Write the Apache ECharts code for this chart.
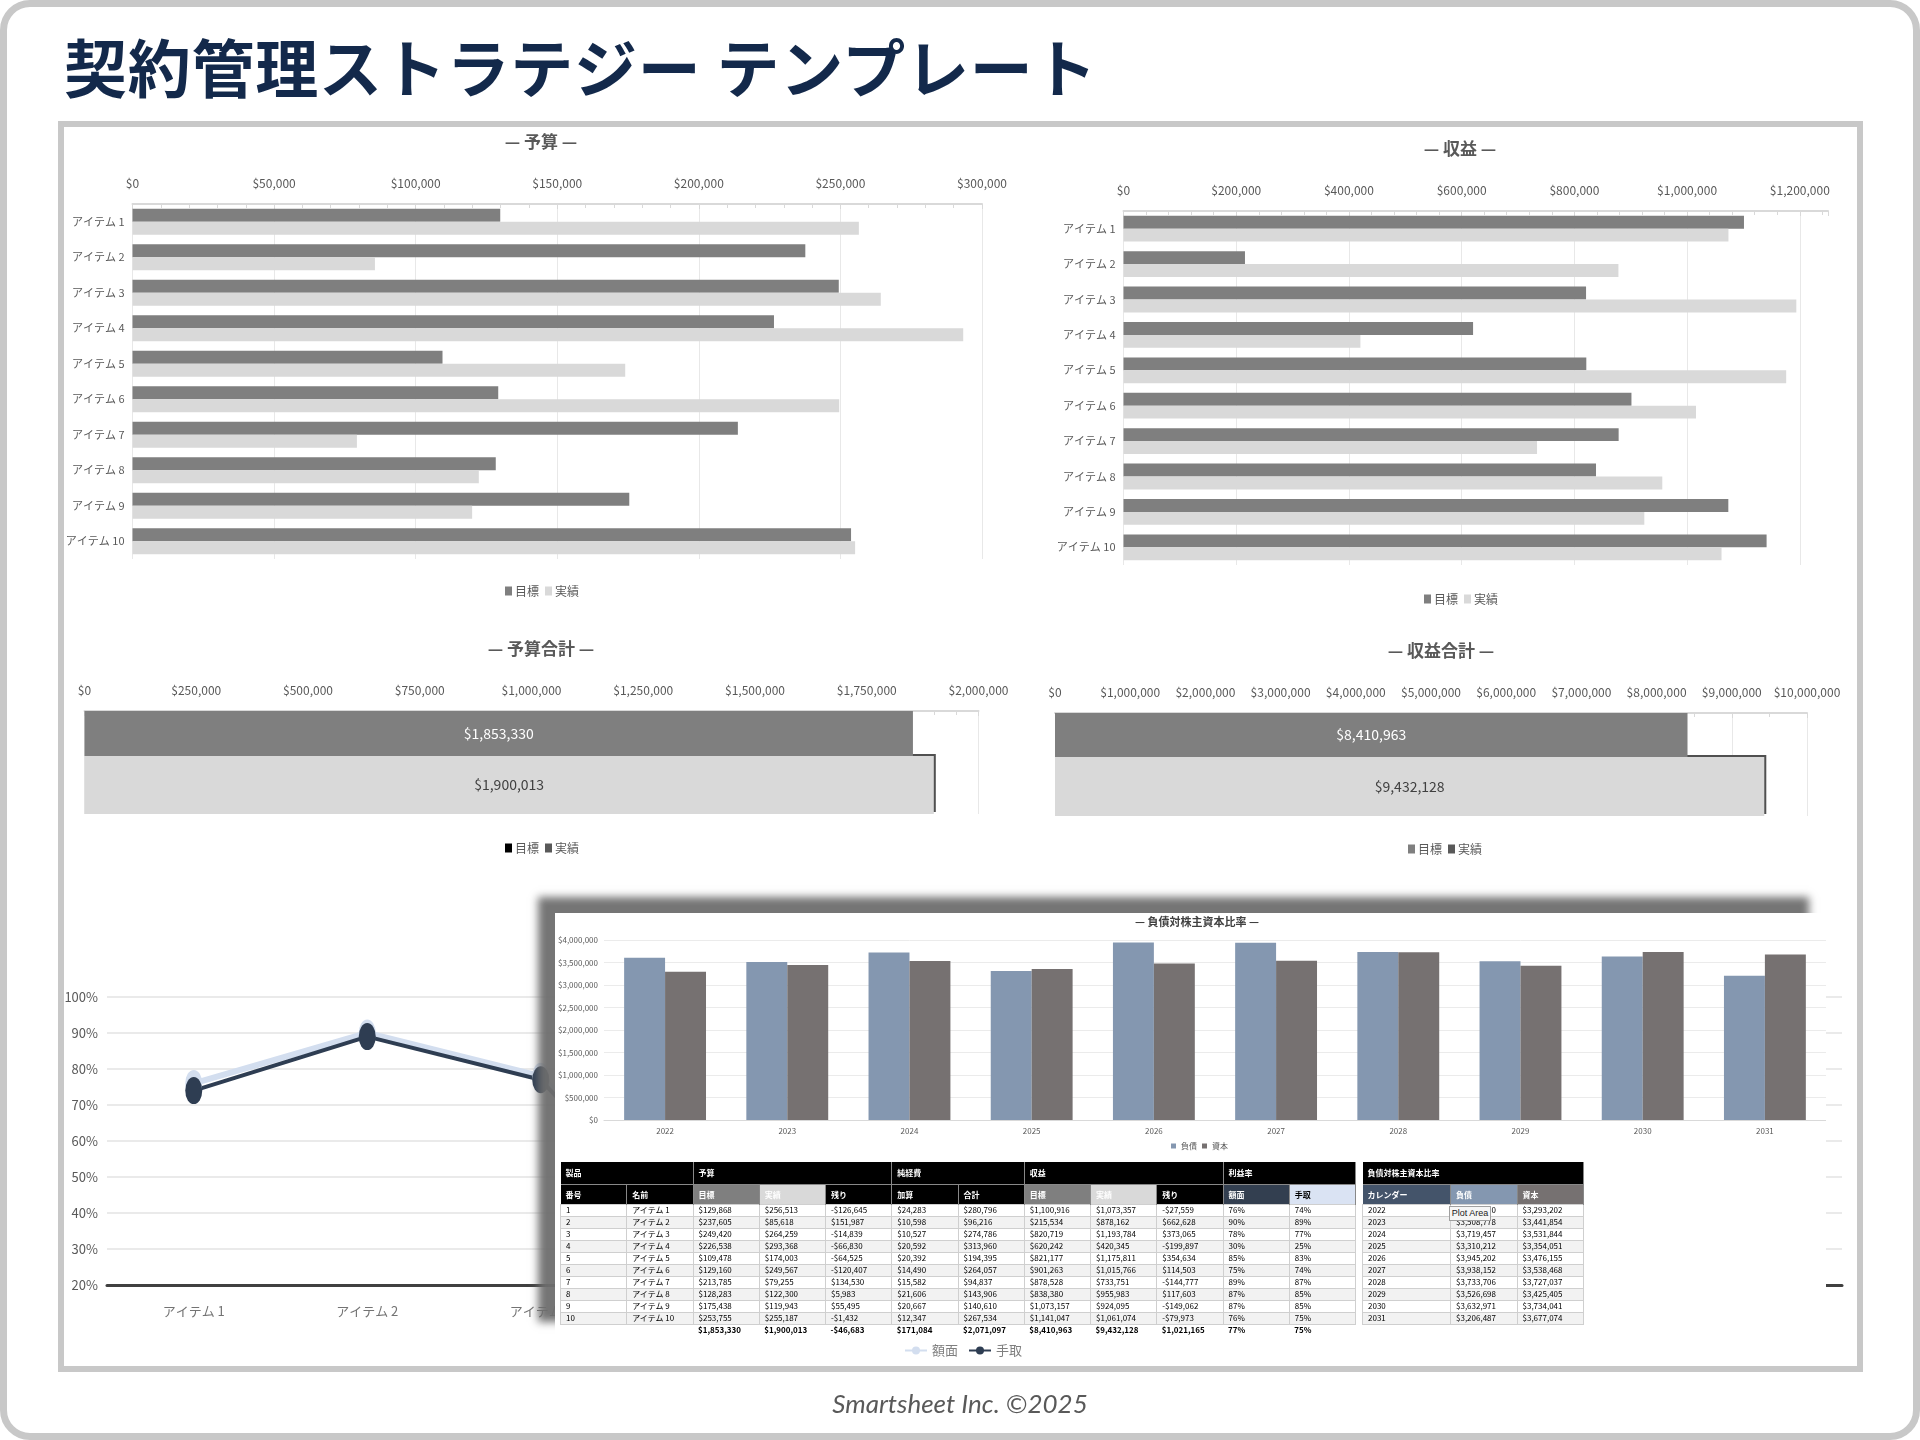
<!DOCTYPE html>
<html><head><meta charset="utf-8">
<script src="https://cdn.jsdelivr.net/npm/echarts@6/dist/echarts.min.js"></script>
<style>
html,body{margin:0;padding:0;background:#fff;}
body{width:1920px;height:1440px;position:relative;overflow:hidden;font-family:"Noto Sans CJK JP",sans-serif;}
#main{position:absolute;left:0;top:0;width:1920px;height:1440px;}
#outer{position:absolute;left:0;top:0;width:1920px;height:1440px;box-sizing:border-box;border:7px solid #c8c8c8;border-radius:30px;pointer-events:none;}
#inner{position:absolute;left:58px;top:121px;width:1805px;height:1251px;box-sizing:border-box;border:6px solid #c8c8c8;pointer-events:none;}
#title{position:absolute;left:64px;top:33px;font-size:63px;font-weight:700;color:#13294b;line-height:1;white-space:nowrap;letter-spacing:0.75px;font-family:"Noto Sans CJK JP",sans-serif;}
#footer{position:absolute;left:0;width:1920px;top:1387px;text-align:center;font-family:Lato,sans-serif;font-style:italic;font-size:26px;color:#595959;line-height:32px;}
#panel{position:absolute;left:555px;top:913px;width:1271px;height:425px;background:#fff;box-shadow:-17px -16px 8px rgba(110,110,110,0.95);}
#debt{position:absolute;left:0;top:0;width:1271px;height:245px;}
table{position:absolute;border-collapse:collapse;table-layout:fixed;font-family:"Liberation Sans Narrow","Noto Sans CJK JP",sans-serif;font-size:8px;color:#000;}
td{padding:0 0 0 5px;overflow:hidden;white-space:nowrap;box-sizing:border-box;}
tr.h1 td{height:22px;background:#000;color:#fff;font-weight:bold;border-right:1px solid #888;}
tr.h2 td{height:20px;background:#000;color:#fff;font-weight:bold;border-right:1px solid #888;border-top:1px solid #888;}
tr.d td{height:12px;border:1px solid #cfcfcf;line-height:10px;}
tr.d:nth-child(even) td{background:#f2f2f2;}
tr.t td{height:10px;font-weight:bold;line-height:10px;}
#tip{position:absolute;left:894px;top:293px;width:42px;height:15px;box-sizing:border-box;border:1px solid #a0a0a0;background:#f6f6f6;font-family:"Liberation Sans","DejaVu Sans",sans-serif;font-size:9px;line-height:13px;text-align:center;color:#222;}
</style>
</head>
<body>
<div id="main"></div>
<div id="title">契約管理ストラテジー テンプレート</div>
<div id="outer"></div>
<div id="inner"></div>
<div id="panel">
  <div id="debt"></div>
  <table id="t1"></table>
  <table id="t2"></table>
  <div id="tip">Plot Area</div>
</div>
<div id="footer">Smartsheet Inc. ©2025</div>
<script>
// ---- data ----
const items = ['アイテム 1','アイテム 2','アイテム 3','アイテム 4','アイテム 5','アイテム 6','アイテム 7','アイテム 8','アイテム 9','アイテム 10'];
const budgetTarget = [129868, 237605, 249420, 226538, 109478, 129160, 213785, 128283, 175438, 253755];
const budgetActual = [256513, 85618, 264259, 293368, 174003, 249567, 79255, 122300, 119943, 255187];
const addedCost = [24283, 10598, 10527, 20592, 20392, 14490, 15582, 21606, 20667, 12347];
const revenueTarget = [1100916, 215534, 820719, 620242, 821177, 901263, 878528, 838380, 1073157, 1141047];
const revenueActual = [1073357, 878162, 1193784, 420345, 1175811, 1015766, 733751, 955983, 924095, 1061074];
const faceRate = [76, 90, 78, 30, 85, 75, 89, 87, 87, 76];
const netRate = [74, 89, 77, 25, 83, 74, 87, 85, 85, 75];
const rateTotals = ['77%', '75%'];
const budgetTotals = [1853330, 1900013];
const revenueTotals = [8410963, 9432128];
const years = ['2022','2023','2024','2025','2026','2027','2028','2029','2030','2031'];
const debt = [3605000, 3508778, 3719457, 3310212, 3945202, 3938152, 3733706, 3526698, 3632971, 3206487];
const equity = [3293202, 3441854, 3531844, 3354051, 3476155, 3538468, 3727037, 3425405, 3734041, 3677074];

const FN = '"Liberation Sans Narrow","Noto Sans CJK JP",sans-serif';
const FJ = '"Noto Sans CJK JP",sans-serif';
const money = v => (v < 0 ? '-' : '') + '$' + Math.abs(v).toLocaleString('en-US');
const C_T = '#7f7f7f', C_A = '#d9d9d9';

function topAxis(grid, max, interval, minorSplit, extra) {
  return Object.assign({
    type: 'value', gridIndex: grid, position: 'top', min: 0, max: max, interval: interval,
    axisLine: {show: true, lineStyle: {color: '#d9d9d9', width: 2}},
    axisTick: {show: true, inside: true, length: 5, lineStyle: {color: '#d9d9d9'}},
    minorTick: {show: true, splitNumber: minorSplit, length: 4, lineStyle: {color: '#d9d9d9'}},
    splitLine: {show: true, lineStyle: {color: '#e8e8e8'}},
    axisLabel: {formatter: money, color: '#595959', fontSize: 12, fontFamily: FN, margin: 15}
  }, extra || {});
}
function catAxis(grid, data, show) {
  return {
    type: 'category', gridIndex: grid, inverse: true, data: data,
    axisLine: {show: false}, axisTick: {show: false},
    axisLabel: {show: show, color: '#595959', fontSize: 11, fontFamily: FJ, margin: 8}
  };
}
function ttl(text, x, y) {
  return {text: text, left: x, top: y - 10, textAlign: 'center', padding: 0,
    textStyle: {fontSize: 17, fontWeight: 'bold', color: '#595959', fontFamily: FJ}};
}
function lg(names, colors, cx, cy) {
  return {
    data: names.map((n, i) => ({name: n, itemStyle: {color: colors[i]}})),
    left: cx - 39, top: cy - 7, padding: 0, icon: 'rect', itemWidth: 7, itemHeight: 9, itemGap: 6,
    selectedMode: false, textStyle: {fontSize: 12, color: '#595959', fontFamily: FJ, padding: [0, 0, 0, -2]}
  };
}

const main = echarts.init(document.getElementById('main'), null, {renderer: 'canvas'});
main.setOption({
  backgroundColor: '#fff',
  animation: false,
  title: [ttl('— 予算 —', 541, 143), ttl('— 収益 —', 1460, 150), ttl('— 予算合計 —', 541, 650), ttl('— 収益合計 —', 1441, 652)],
  legend: [
    lg(['目標', '実績'], [C_T, C_A], 544, 592),
    lg(['目標', '実績'], [C_T, C_A], 1463, 600),
    lg(['目標', '実績'], ['#000', '#595959'], 544, 849),
    lg(['目標', '実績'], [C_T, '#595959'], 1447, 850),
    {data: ['額面', '手取'], left: 960 - 56, top: 1344, padding: 0, itemWidth: 22, itemHeight: 10, itemGap: 10,
     selectedMode: false, textStyle: {fontSize: 13, color: '#7f7f7f', fontFamily: FJ}}
  ],
  grid: [
    {left: 132.5, top: 204, width: 849.5, height: 355},
    {left: 1123.5, top: 211, width: 704.5, height: 354},
    {left: 84.5, top: 711, width: 894, height: 103},
    {left: 1055, top: 713, width: 752, height: 103},
    {left: 107, top: 997, width: 1735, height: 288}
  ],
  xAxis: [
    topAxis(0, 300000, 50000, 5),
    topAxis(1, 1250000, 200000, 5, {}),
    topAxis(2, 2000000, 250000, 5),
    topAxis(3, 10000000, 1000000, 2),
    {type: 'category', gridIndex: 4, data: items, boundaryGap: true,
     axisLine: {show: true, lineStyle: {color: '#404040', width: 3}}, axisTick: {show: false},
     axisLabel: {color: '#737373', fontSize: 13, fontFamily: FJ, margin: 20}}
  ],
  yAxis: [
    catAxis(0, items, true),
    catAxis(1, items, true),
    catAxis(2, ['予算合計'], false),
    catAxis(3, ['収益合計'], false),
    {type: 'value', gridIndex: 4, min: 20, max: 100, interval: 10,
     axisLine: {show: false}, axisTick: {show: false},
     splitLine: {lineStyle: {color: '#e3e3e3', width: 1.5}},
     axisLabel: {formatter: v => v + '%', color: '#595959', fontSize: 13, fontFamily: FN, margin: 9}}
  ],
  series: [
    {name: '目標', type: 'bar', xAxisIndex: 0, yAxisIndex: 0, data: budgetTarget, itemStyle: {color: C_T}, barGap: '0%', barCategoryGap: '27%'},
    {name: '実績', type: 'bar', xAxisIndex: 0, yAxisIndex: 0, data: budgetActual, itemStyle: {color: C_A}, barGap: '0%', barCategoryGap: '27%'},
    {name: '目標', type: 'bar', xAxisIndex: 1, yAxisIndex: 1, data: revenueTarget, itemStyle: {color: C_T}, barGap: '0%', barCategoryGap: '27%'},
    {name: '実績', type: 'bar', xAxisIndex: 1, yAxisIndex: 1, data: revenueActual, itemStyle: {color: C_A}, barGap: '0%', barCategoryGap: '27%'},
    {name: '目標', type: 'bar', xAxisIndex: 2, yAxisIndex: 2, data: [budgetTotals[0]], barWidth: 45, z: 3, barGap: '0%',
     itemStyle: {color: C_T},
     label: {show: true, position: 'inside', formatter: p => money(p.value), color: '#fff', fontSize: 14, fontFamily: FN}},
    {name: '実績', type: 'bar', xAxisIndex: 2, yAxisIndex: 2, data: [budgetTotals[1]], barWidth: 58, z: 2, barGap: '0%',
     itemStyle: {color: C_A, shadowColor: '#505050', shadowOffsetX: 2, shadowOffsetY: -2, shadowBlur: 0},
     label: {show: true, position: 'inside', formatter: p => money(p.value), color: '#404040', fontSize: 14, fontFamily: FN}},
    {name: '目標', type: 'bar', xAxisIndex: 3, yAxisIndex: 3, data: [revenueTotals[0]], barWidth: 44, z: 3, barGap: '0%',
     itemStyle: {color: C_T},
     label: {show: true, position: 'inside', formatter: p => money(p.value), color: '#fff', fontSize: 14, fontFamily: FN}},
    {name: '実績', type: 'bar', xAxisIndex: 3, yAxisIndex: 3, data: [revenueTotals[1]], barWidth: 59, z: 2, barGap: '0%',
     itemStyle: {color: C_A, shadowColor: '#505050', shadowOffsetX: 2, shadowOffsetY: -2, shadowBlur: 0},
     label: {show: true, position: 'inside', formatter: p => money(p.value), color: '#404040', fontSize: 14, fontFamily: FN}},
    {name: '額面', type: 'line', xAxisIndex: 4, yAxisIndex: 4, data: faceRate, symbol: 'circle', symbolSize: [17, 27],
     itemStyle: {color: '#d3deef'}, lineStyle: {color: '#d3deef', width: 6}},
    {name: '手取', type: 'line', xAxisIndex: 4, yAxisIndex: 4, data: netRate, symbol: 'circle', symbolSize: [17, 27],
     itemStyle: {color: '#2e3d52'}, lineStyle: {color: '#2e3d52', width: 4}}
  ]
});
// hide max label/line of revenue axis (max is beyond last labelled tick)
main.setOption({xAxis: [{}, {axisLabel: {showMaxLabel: false}, splitLine: {showMaxLine: false}}]});

const dc = echarts.init(document.getElementById('debt'), null, {renderer: 'canvas'});
dc.setOption({
  animation: false,
  title: {text: '— 負債対株主資本比率 —', left: 642, top: 3, textAlign: 'center', padding: 0,
    textStyle: {fontSize: 11, fontWeight: 'bold', color: '#404040', fontFamily: FJ}},
  legend: {data: ['負債', '資本'], left: 616, top: 229, padding: 0, icon: 'rect', itemWidth: 5, itemHeight: 5, itemGap: 5,
    selectedMode: false, textStyle: {fontSize: 8, color: '#595959', fontFamily: FJ}},
  grid: {left: 48, right: 0, top: 27, height: 180},
  xAxis: {type: 'category', data: years, axisLine: {lineStyle: {color: '#d9d9d9'}}, axisTick: {show: false},
    axisLabel: {fontSize: 8, color: '#595959', fontFamily: FN, margin: 7}},
  yAxis: {type: 'value', min: 0, max: 4000000, interval: 500000, axisLine: {show: false}, axisTick: {show: false},
    splitLine: {lineStyle: {color: '#ebebeb'}},
    axisLabel: {formatter: money, fontSize: 8, color: '#595959', fontFamily: FN, margin: 6}},
  series: [
    {name: '負債', type: 'bar', data: debt, itemStyle: {color: '#8497b0'}, barGap: '0%', barCategoryGap: '33%'},
    {name: '資本', type: 'bar', data: equity, itemStyle: {color: '#767171'}, barGap: '0%', barCategoryGap: '33%'}
  ]
});

// ---- tables ----
const pct = v => v + '%';
function td(text, style) { return '<td' + (style ? ' style="' + style + '"' : '') + '>' + text + '</td>'; }
let h = '<colgroup>' + '<col style="width:66.25px">'.repeat(12) + '</colgroup>';
h += '<tr class="h1"><td colspan="2">製品</td><td colspan="3">予算</td><td colspan="2">純経費</td><td colspan="3">収益</td><td colspan="2">利益率</td></tr>';
const h2 = [['番号'], ['名前'], ['目標', 'background:#7f7f7f'], ['実績', 'background:#d9d9d9'], ['残り'], ['加算'], ['合計'],
  ['目標', 'background:#7f7f7f'], ['実績', 'background:#d9d9d9'], ['残り'], ['額面', 'background:#333f50'], ['手取', 'background:#dae3f3;color:#000']];
h += '<tr class="h2">' + h2.map(c => td(c[0], c[1])).join('') + '</tr>';
for (let i = 0; i < items.length; i++) {
  const row = [i + 1, items[i], money(budgetTarget[i]), money(budgetActual[i]), money(budgetTarget[i] - budgetActual[i]),
    money(addedCost[i]), money(budgetActual[i] + addedCost[i]), money(revenueTarget[i]), money(revenueActual[i]),
    money(revenueActual[i] - revenueTarget[i]), pct(faceRate[i]), pct(netRate[i])];
  h += '<tr class="d">' + row.map(c => td(c)).join('') + '</tr>';
}
const sumAdded = addedCost.reduce((a, b) => a + b, 0);
const tot = ['', '', money(budgetTotals[0]), money(budgetTotals[1]), money(budgetTotals[0] - budgetTotals[1]), money(sumAdded),
  money(budgetTotals[1] + sumAdded), money(revenueTotals[0]), money(revenueTotals[1]), money(revenueTotals[1] - revenueTotals[0]),
  rateTotals[0], rateTotals[1]];
h += '<tr class="t">' + tot.map(c => td(c)).join('') + '</tr>';
const t1 = document.getElementById('t1');
t1.innerHTML = h; t1.style.left = '5px'; t1.style.top = '249px'; t1.style.width = '795px';

let g = '<colgroup><col style="width:88px"><col style="width:66.5px"><col style="width:66px"></colgroup>';
g += '<tr class="h1"><td colspan="3">負債対株主資本比率</td></tr>';
g += '<tr class="h2">' + td('カレンダー', 'background:#44546a') + td('負債', 'background:#8497b0') + td('資本', 'background:#767171') + '</tr>';
for (let i = 0; i < years.length; i++) {
  g += '<tr class="d">' + td(years[i]) + td(money(debt[i])) + td(money(equity[i])) + '</tr>';
}
const t2 = document.getElementById('t2');
t2.innerHTML = g; t2.style.left = '807px'; t2.style.top = '249px'; t2.style.width = '220.5px';
</script>
</body></html>
